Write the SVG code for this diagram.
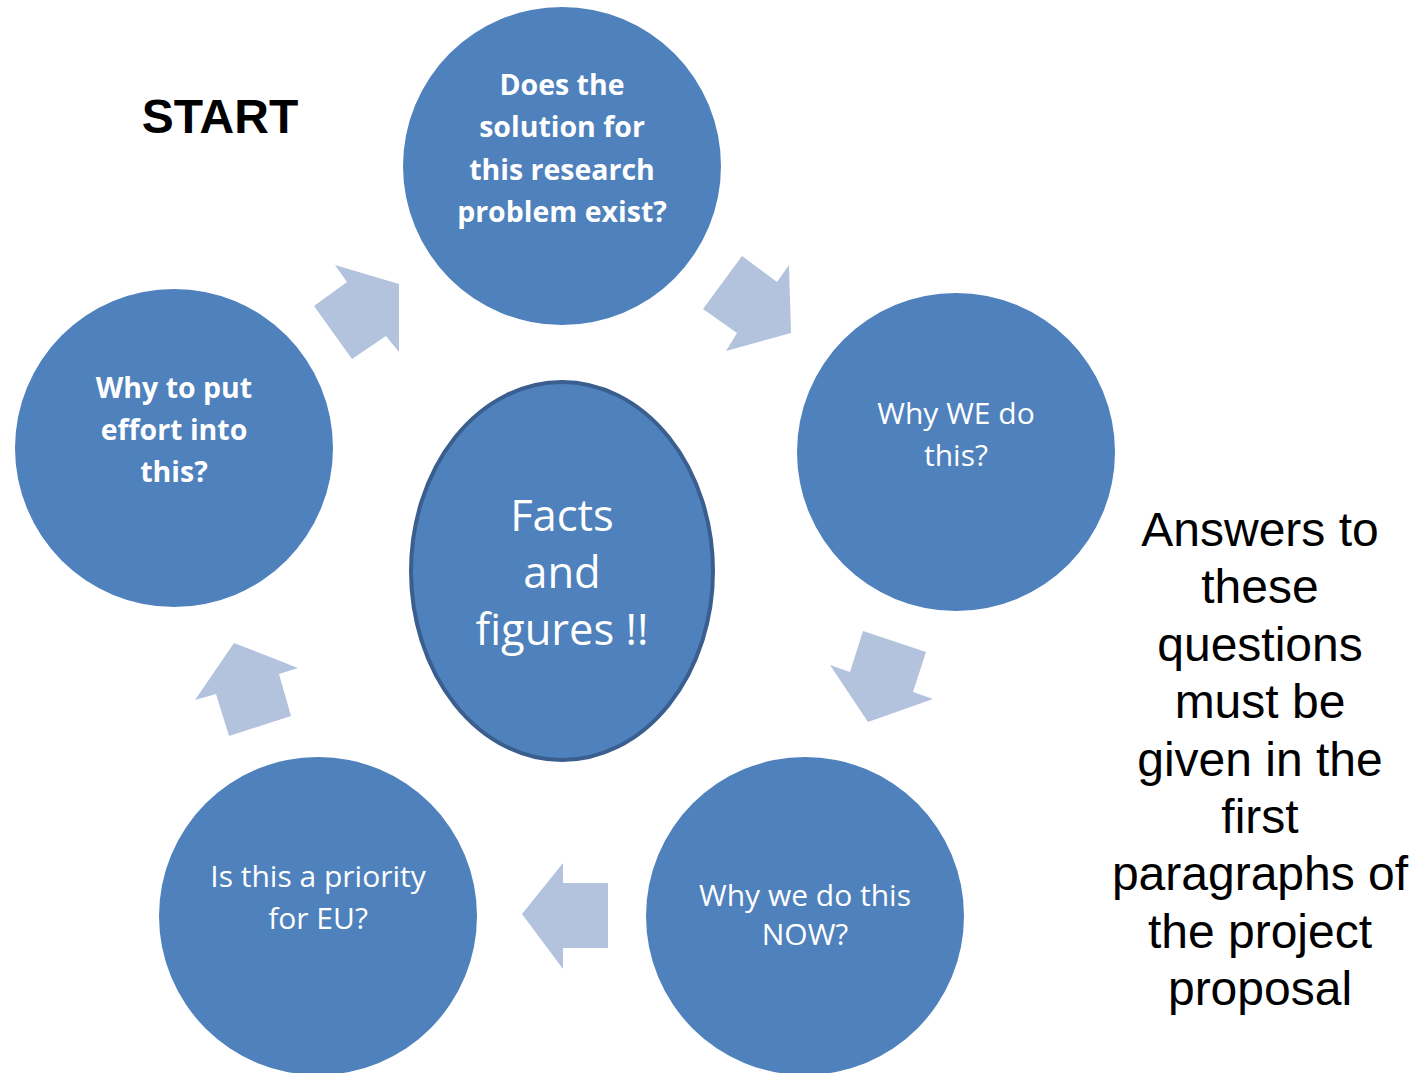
<svg xmlns="http://www.w3.org/2000/svg" width="1426" height="1073" viewBox="0 0 1426 1073">
<style>
.c{fill:#4F81BD}
.arr{fill:#B3C3DE}
.t{font-family:"Open Sans","Noto Sans",sans-serif;fill:#fff;text-anchor:middle;font-size:30px}
.b{font-weight:bold;font-size:28.5px}
.k{font-family:"Liberation Sans",Arial,sans-serif;fill:#000;text-anchor:middle;font-size:48px}
</style>
<rect width="1426" height="1073" fill="#fff"/>
<g id="connectors">
<polygon class="arr" points="335,265 347,282 314,306 352,359 386,336 399,352 399,284"/>
<polygon class="arr" points="742,256 777,282 789,265 791,333 726,351 737,333 703,309"/>
<polygon class="arr" points="863,631 926,652 913,692 933,699 868,722 830,665 850,672"/>
<polygon class="arr" points="563,863 563,883 608,883 608,948 563,948 563,969 522,914"/>
<polygon class="arr" points="234,643 298,668 279,674 291,716 229,736 216,694 195,700"/>
</g>
<g id="start"><text class="k" font-weight="bold" x="220" y="133">START</text></g>
<g id="n-top">
<circle class="c" cx="562" cy="166" r="159"/>
<text class="t b" x="562" y="95">Does the</text>
<text class="t b" x="562" y="137">solution for</text>
<text class="t b" x="562" y="180">this research</text>
<text class="t b" x="562" y="222">problem exist?</text>
</g>
<g id="n-right">
<circle class="c" cx="956" cy="452" r="159"/>
<text class="t" x="956" y="424">Why WE do</text>
<text class="t" x="956" y="466">this?</text>
</g>
<g id="n-bottomright">
<circle class="c" cx="805" cy="916" r="159"/>
<text class="t" x="805" y="906">Why we do this</text>
<text class="t" x="805" y="945">NOW?</text>
</g>
<g id="n-bottomleft">
<circle class="c" cx="318" cy="916" r="159"/>
<text class="t" x="318" y="887">Is this a priority</text>
<text class="t" x="318" y="929">for EU?</text>
</g>
<g id="n-left">
<circle class="c" cx="174" cy="448" r="159"/>
<text class="t b" x="174" y="398">Why to put</text>
<text class="t b" x="174" y="440">effort into</text>
<text class="t b" x="174" y="482">this?</text>
</g>
<g id="n-center">
<ellipse cx="562" cy="571" rx="151" ry="189" fill="#4F81BD" stroke="#3A5F8F" stroke-width="4"/>
<text class="t" x="562" y="531" style="font-size:43.5px">Facts</text>
<text class="t" x="562" y="588" style="font-size:43.5px">and</text>
<text class="t" x="562" y="645" style="font-size:43.5px">figures !!</text>
</g>
<g id="note">
<text class="k" x="1260" y="546">Answers to</text>
<text class="k" x="1260" y="603">these</text>
<text class="k" x="1260" y="661">questions</text>
<text class="k" x="1260" y="718">must be</text>
<text class="k" x="1260" y="776">given in the</text>
<text class="k" x="1260" y="833">first</text>
<text class="k" x="1260" y="890">paragraphs of</text>
<text class="k" x="1260" y="948">the project</text>
<text class="k" x="1260" y="1005">proposal</text>
</g>
</svg>
